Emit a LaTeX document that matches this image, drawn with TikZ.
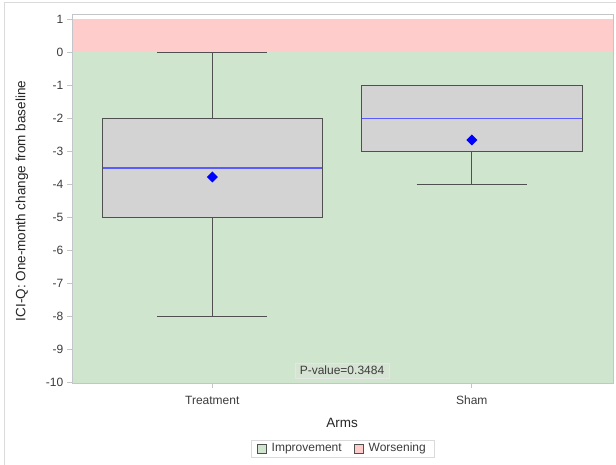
\documentclass[tikz,border=0pt]{standalone}
\usepackage{fontspec}
\setmainfont{Liberation Sans}
\definecolor{greenc}{RGB}{207,229,206}
\definecolor{pinkc}{RGB}{255,204,204}
\definecolor{boxfill}{RGB}{211,211,211}
\definecolor{boxline}{RGB}{80,80,80}
\definecolor{medc}{RGB}{90,90,255}
\definecolor{framec}{RGB}{218,218,218}
\definecolor{axisc}{RGB}{195,198,200}
\definecolor{tickc}{RGB}{60,60,60}
\definecolor{pfill}{RGB}{214,228,211}
\begin{document}
\begin{tikzpicture}[x=1pt,y=-1pt,
  boxst/.style={draw=boxline,fill=boxfill,line width=0.9pt},
  whisk/.style={draw=boxline,line width=0.9pt},
  medst/.style={draw=medc,line width=1.5pt},
  meanst/.style={fill=blue},
  ticklab/.style={font=\fontsize{12}{14}\selectfont,text=tickc,inner sep=0pt},
  axlab/.style={font=\fontsize{13.5}{16}\selectfont,text=black!85,inner sep=0pt},
  tickmark/.style={draw=axisc,line width=0.8pt},
  legsq/.style={draw=boxline,line width=0.7pt,minimum width=9pt,minimum height=9pt,inner sep=0pt}]
\useasboundingbox (0,0) rectangle (616,465);
\fill[white] (0,0) rectangle (616,465);
\draw[framec,line width=1pt] (4,465) -- (4,3) -- (616,3);
% plot area
\fill[white] (72,15) rectangle (613,383);
\fill[pinkc] (72,19.5) rectangle (613,52.5);
\fill[greenc] (72,52.5) rectangle (613,382.5);
\draw[axisc,line width=1pt] (72,15) rectangle (613,383.5);
% y ticks
\foreach \v in {1,0,-1,-2,-3,-4,-5,-6,-7,-8,-9,-10}{
  \pgfmathsetmacro\yy{52.5-33*\v}
  \draw[tickmark] (67,\yy) -- (72,\yy);
  \node[ticklab,anchor=east] (yt\v) at (63.5,\yy) {\v};
}
% Treatment
\draw[whisk] (212.3,118.5) -- (212.3,52.5);
\draw[whisk] (157,52.5) -- (267,52.5);
\draw[whisk] (212.3,217.5) -- (212.3,316.5);
\draw[whisk] (157,316.5) -- (267,316.5);
\draw[boxst] (102,118.5) rectangle (322.5,217.5);
\draw[medst] (102.5,168) -- (322,168);
\fill[meanst] (212.3,171.5) -- (217.8,177) -- (212.3,182.5) -- (206.8,177) -- cycle;
% Sham
\draw[whisk] (471.8,151.5) -- (471.8,184.5);
\draw[whisk] (416.7,184.5) -- (526.7,184.5);
\draw[boxst] (361.7,85.5) rectangle (582,151.5);
\draw[medst] (362.2,118.5) -- (581.5,118.5);
\fill[meanst] (471.8,134.5) -- (477.3,140) -- (471.8,145.5) -- (466.3,140) -- cycle;
% p-value
\node[ticklab,fill=pfill,draw=pfill!85!black!40!white,minimum width=94pt,minimum height=15pt] (pv) at (342,370.5) {P-value=0.3484};
% x ticks
\draw[tickmark] (212.3,383.5) -- (212.3,388);
\draw[tickmark] (471.8,383.5) -- (471.8,388);
\node[ticklab] (xt1) at (212.3,400.5) {Treatment};
\node[ticklab] (xt2) at (471.8,400.5) {Sham};
\node[axlab] (xl) at (342,423) {Arms};
\node[axlab,rotate=90] (yl) at (22,201) {ICI-Q: One-month change from baseline};
% legend
\draw[framec,line width=0.8pt,fill=white] (251,440) rectangle (434,457.5);
\node[legsq,fill=greenc] (sq1) at (261.5,448.7) {};
\node[ticklab,anchor=west] (lg1) at (271.5,448.7) {Improvement};
\node[legsq,fill=pinkc] (sq2) at (358.5,448.7) {};
\node[ticklab,anchor=west] (lg2) at (368.5,448.7) {Worsening};
\end{tikzpicture}
\end{document}
